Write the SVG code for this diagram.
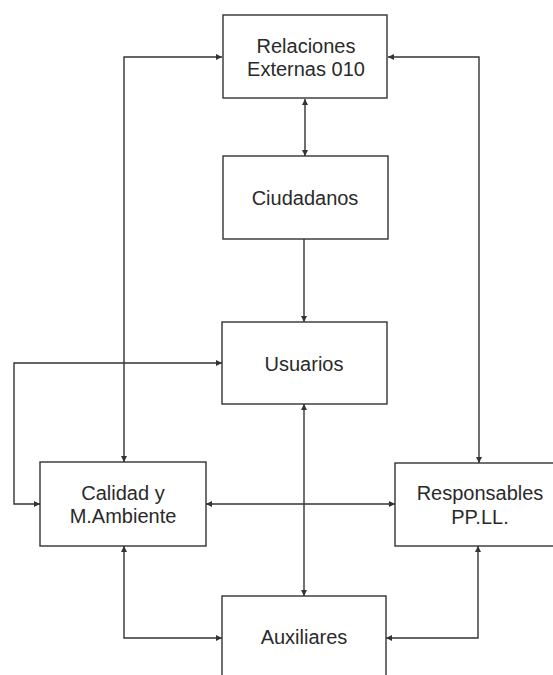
<svg xmlns="http://www.w3.org/2000/svg" width="553" height="675" viewBox="0 0 553 675">
<style>
.box{fill:#fff;stroke:#333;stroke-width:1.4}
.t{font-family:"Liberation Sans",Arial,sans-serif;font-size:20px;fill:#2a2a2a;text-anchor:middle}
.c{fill:none;stroke:#333;stroke-width:1.4}
</style>
<defs>
<marker id="ah" viewBox="0 0 10 10" refX="10" refY="5" markerWidth="6" markerHeight="6" markerUnits="userSpaceOnUse" orient="auto-start-reverse">
<path d="M0,0 L10,5 L0,10 z" fill="#333"/>
</marker>
</defs>
<rect width="553" height="675" fill="#fff"/>
<g id="connectors">
<path class="c" d="M124,462 V57 H222" marker-start="url(#ah)" marker-end="url(#ah)"/>
<path class="c" d="M479,463 V57 H388" marker-start="url(#ah)" marker-end="url(#ah)"/>
<path class="c" d="M305,99 V156" marker-start="url(#ah)" marker-end="url(#ah)"/>
<path class="c" d="M304,239 V322" marker-end="url(#ah)"/>
<path class="c" d="M222,363 H14 V504 H40" marker-start="url(#ah)" marker-end="url(#ah)"/>
<path class="c" d="M206,504 H395" marker-start="url(#ah)" marker-end="url(#ah)"/>
<path class="c" d="M304,404 V596" marker-start="url(#ah)" marker-end="url(#ah)"/>
<path class="c" d="M124,546 V638 H222" marker-start="url(#ah)" marker-end="url(#ah)"/>
<path class="c" d="M478,546 V638 H386" marker-start="url(#ah)" marker-end="url(#ah)"/>
</g>
<g id="relaciones">
<rect class="box" x="223" y="15" width="164" height="83"/>
<text class="t" x="306" y="53">Relaciones</text>
<text class="t" x="306" y="76">Externas 010</text>
</g>
<g id="ciudadanos">
<rect class="box" x="223" y="156" width="165" height="83"/>
<text class="t" x="305" y="205">Ciudadanos</text>
</g>
<g id="usuarios">
<rect class="box" x="222" y="322" width="165" height="82"/>
<text class="t" x="304" y="371">Usuarios</text>
</g>
<g id="calidad">
<rect class="box" x="40" y="462" width="166" height="84"/>
<text class="t" x="123" y="500">Calidad y</text>
<text class="t" x="123" y="523">M.Ambiente</text>
</g>
<g id="responsables">
<rect class="box" x="395" y="463" width="170" height="83"/>
<text class="t" x="480" y="500">Responsables</text>
<text class="t" x="480" y="524">PP.LL.</text>
</g>
<g id="auxiliares">
<rect class="box" x="222" y="596" width="164" height="90"/>
<text class="t" x="304" y="644">Auxiliares</text>
</g>
</svg>
